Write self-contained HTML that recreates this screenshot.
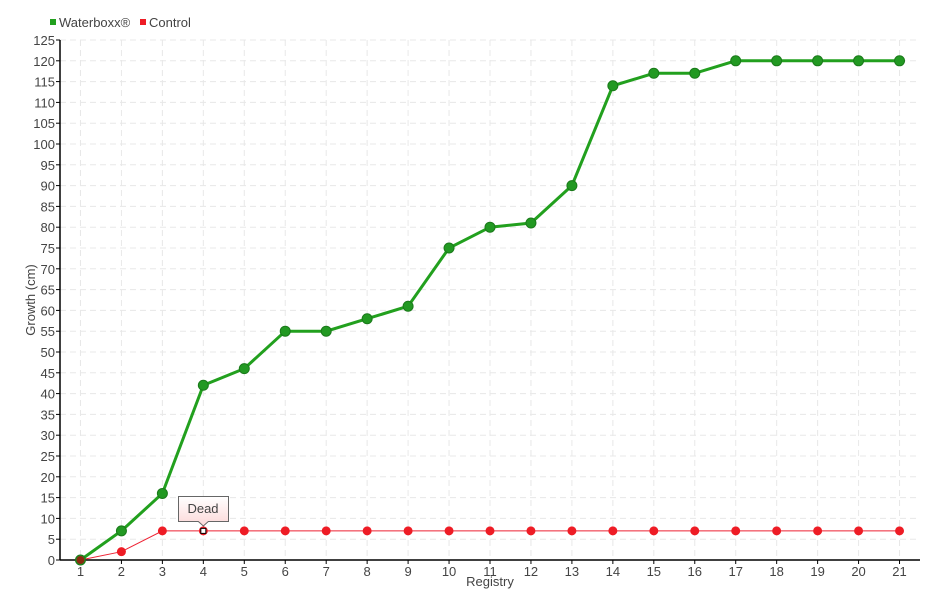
<!DOCTYPE html>
<html><head><meta charset="utf-8"><style>
body{margin:0;background:#fff;}
svg text{font-family:"Liberation Sans Narrow","Liberation Sans",sans-serif;fill:#444;}
</style></head><body>
<svg id="c" width="940" height="600" xmlns="http://www.w3.org/2000/svg"></svg>
<script>
var s='';
var X0=60,X1=920,Y0=560,Y1=40;
var bw=(X1-X0)/21;
function x(i){return X0+bw*(i+0.5);}
function y(v){return Y0-(Y0-Y1)*v/125;}
for(var v=0;v<=125;v+=5){
 var yy=y(v);
 if(v>0) s+='<line x1="'+X0+'" x2="'+X1+'" y1="'+yy+'" y2="'+yy+'" stroke="#e8e8e8" stroke-dasharray="6,4"/>';
 s+='<line x1="'+(X0-4)+'" x2="'+X0+'" y1="'+yy+'" y2="'+yy+'" stroke="#000"/>';
 s+='<text x="'+(X0-5)+'" y="'+(yy+5)+'" font-size="13" text-anchor="end">'+v+'</text>';
}
for(var i=0;i<21;i++){
 s+='<line x1="'+x(i)+'" x2="'+x(i)+'" y1="'+Y1+'" y2="'+Y0+'" stroke="#e8e8e8" stroke-dasharray="6,4"/>';
 s+='<line x1="'+x(i)+'" x2="'+x(i)+'" y1="'+Y0+'" y2="'+(Y0+4)+'" stroke="#000"/>';
 s+='<text x="'+x(i)+'" y="576" font-size="13" text-anchor="middle">'+(i+1)+'</text>';
}
s+='<line x1="'+X0+'" x2="'+X0+'" y1="'+Y1+'" y2="'+Y0+'" stroke="#000" stroke-width="1.5"/>';
s+='<line x1="'+X0+'" x2="'+X1+'" y1="'+Y0+'" y2="'+Y0+'" stroke="#000" stroke-width="1.5"/>';
s+='<text x="490" y="586" font-size="13" text-anchor="middle">Registry</text>';
s+='<text transform="translate(35,300) rotate(-90)" font-size="13" text-anchor="middle">Growth (cm)</text>';
var g=[0,7,16,42,46,55,55,58,61,75,80,81,90,114,117,117,120,120,120,120,120];
var r=[0,2,7,7,7,7,7,7,7,7,7,7,7,7,7,7,7,7,7,7,7];
var p='';r.forEach(function(v,i){p+=(i?'L':'M')+x(i)+','+y(v);});
s+='<path d="'+p+'" fill="none" stroke="#ee2233" stroke-width="1"/>';
r.forEach(function(v,i){ if(i==3){s+='<circle cx="'+x(i)+'" cy="'+y(v)+'" r="4.5" fill="#ee1c25"/><rect x="'+(x(i)-2.5)+'" y="'+(y(v)-2.5)+'" width="5" height="5" fill="#fff" stroke="#000"/>';} else s+='<circle cx="'+x(i)+'" cy="'+y(v)+'" r="4.5" fill="#ee1c25"/>';});
p='';g.forEach(function(v,i){p+=(i?'L':'M')+x(i)+','+y(v);});
s+='<path d="'+p+'" fill="none" stroke="#22a01e" stroke-width="3"/>';
g.forEach(function(v,i){s+='<circle cx="'+x(i)+'" cy="'+y(v)+'" r="5" fill="#229922" stroke="#1a7a1a" stroke-width="1"/>';});
s+='<circle cx="'+x(0)+'" cy="'+y(0)+'" r="4" fill="#8a2a10"/>';
var tx=x(3);
s+='<defs><linearGradient id="tg" x1="0" y1="0" x2="0" y2="1"><stop offset="0" stop-color="#fff"/><stop offset="1" stop-color="#fcd8d8"/></linearGradient></defs>';
s+='<path d="M178.5,496.5H228.5V521.5H'+(tx+5)+'L'+tx+',526L'+(tx-5)+',521.5H178.5Z" fill="url(#tg)" stroke="#666"/>';
s+='<text x="203" y="513" font-size="13" text-anchor="middle">Dead</text>';
s+='<rect x="50" y="19" width="6" height="6" fill="#22a01e"/><text x="59" y="27" font-size="13">Waterboxx®</text>';
s+='<rect x="140" y="19" width="6" height="6" fill="#ee1c25"/><text x="149" y="27" font-size="13">Control</text>';
document.getElementById('c').innerHTML=s;
</script>
</body></html>
